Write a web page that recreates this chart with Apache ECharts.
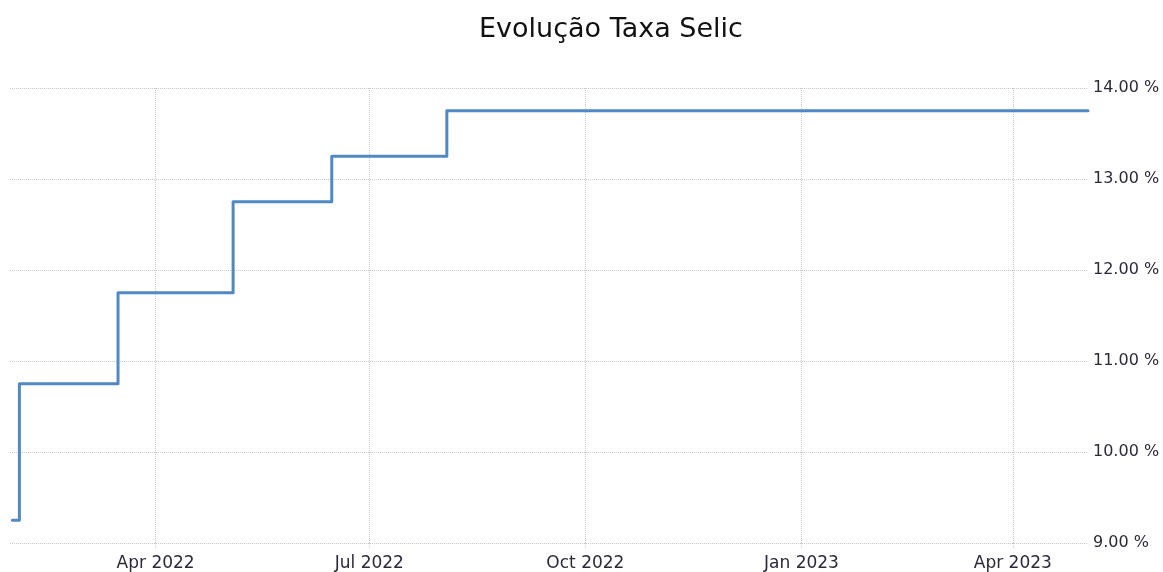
<!DOCTYPE html>
<html>
<head>
<meta charset="utf-8">
<script src="https://cdn.jsdelivr.net/npm/echarts@6/dist/echarts.min.js"></script>
<style>
  html, body { margin: 0; padding: 0; background: #fff; }
  #chart { width: 1163px; height: 572px; }
</style>
</head>
<body>
<div id="chart"></div>
<script>
// Selic target rate: [date of change, rate %]
const changeDates = ['2022-01-30', '2022-02-02', '2022-03-16', '2022-05-04', '2022-06-15', '2022-08-03', '2023-05-03'];
const rates = [9.25, 10.75, 11.75, 12.75, 13.25, 13.75, 13.75];
const tickDates = ['2022-04-01', '2022-07-01', '2022-10-01', '2023-01-01', '2023-04-01'];
const monthNames = ['Jan', 'Feb', 'Mar', 'Apr', 'May', 'Jun', 'Jul', 'Aug', 'Sep', 'Oct', 'Nov', 'Dec'];

const ts = (d) => new Date(d + 'T00:00:00Z').getTime();
const seriesData = changeDates.map((d, i) => [ts(d), rates[i]]);
const tickValues = tickDates.map(ts);

const chart = echarts.init(document.getElementById('chart'), null, { renderer: 'canvas' });
chart.setOption({
  animation: false,
  title: {
    text: 'Evolução Taxa Selic',
    left: 474,
    top: 11,
    textStyle: { fontFamily: 'DejaVu Sans', fontSize: 27, fontWeight: 'normal', color: '#111' },
  },
  grid: { left: 10, right: 75, top: 88, bottom: 29 },
  xAxis: {
    type: 'value',
    min: ts('2022-01-29'),
    max: ts('2023-05-03'),
    axisLine: { show: false },
    axisTick: {
      show: true,
      customValues: tickValues,
      length: 5,
      lineStyle: { color: '#ccc', type: 'dotted' },
    },
    axisLabel: {
      customValues: tickValues,
      margin: 12,
      fontFamily: 'DejaVu Sans',
      fontSize: 17,
      color: '#2a2a3a',
      formatter: (v) => {
        const d = new Date(v);
        return monthNames[d.getUTCMonth()] + ' ' + d.getUTCFullYear();
      },
    },
    splitLine: { show: true, lineStyle: { color: '#c8c8c8', type: 'dotted', width: 1 } },
  },
  yAxis: {
    type: 'value',
    position: 'right',
    min: 9,
    max: 14,
    interval: 1,
    axisLine: { show: false },
    axisTick: { show: false },
    axisLabel: {
      margin: 5,
      fontFamily: 'DejaVu Sans',
      fontSize: 16,
      color: '#2a2a3a',
      formatter: (v) => v.toFixed(2) + ' %',
    },
    splitLine: { show: true, lineStyle: { color: '#c8c8c8', type: 'dotted', width: 1 } },
  },
  series: [{
    type: 'line',
    step: 'end',
    data: seriesData,
    showSymbol: false,
    lineStyle: { color: '#5289c2', width: 3, cap: 'round', join: 'round' },
  }],
});
</script>
</body>
</html>
